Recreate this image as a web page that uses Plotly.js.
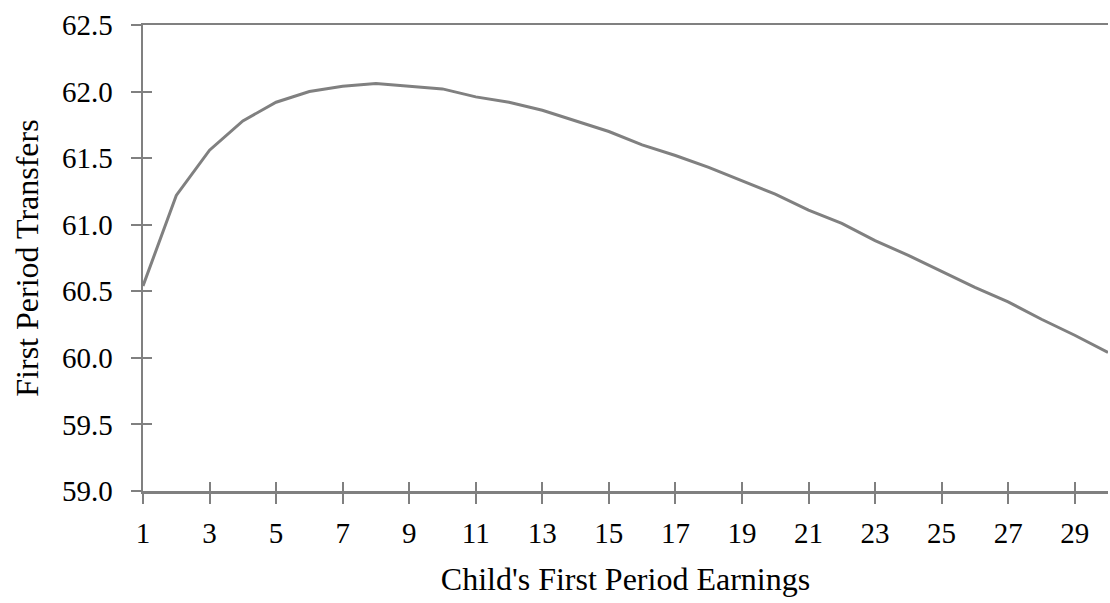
<!DOCTYPE html>
<html>
<head>
<meta charset="utf-8">
<script src="https://cdn.plot.ly/plotly-3.0.1.min.js"></script>
<style>html,body{margin:0;padding:0;background:#fff;}#chart{width:1110px;height:603px;}</style>
</head>
<body>
<div id="chart"></div>
<script>
// Child's first period earnings (x) and first period transfers (y)
const earnings = [1,2,3,4,5,6,7,8,9,10,11,12,13,14,15,16,17,18,19,20,21,22,23,24,25,26,27,28,29,30];
const transfers = [60.54,61.22,61.56,61.78,61.92,62.00,62.04,62.06,62.04,62.02,61.96,61.92,61.86,61.78,61.70,61.60,61.52,61.43,61.33,61.23,61.11,61.01,60.88,60.77,60.65,60.53,60.42,60.29,60.17,60.04];
const xTickVals = [1,3,5,7,9,11,13,15,17,19,21,23,25,27,29];
const yTickVals = [59.0,59.5,60.0,60.5,61.0,61.5,62.0,62.5];
const yTickText = yTickVals.map(v => v.toFixed(1));
const xTitle = "Child's First Period Earnings";
const yTitle = "First Period Transfers";

const gray = '#808080';
const fontFam = '"Liberation Serif", "Times New Roman", serif';

const traces = [
  {x: earnings, y: transfers, type: 'scatter', mode: 'lines',
   line: {color: gray, width: 3}, hoverinfo: 'skip', xaxis: 'x', yaxis: 'y'},
  {x: [earnings[0]], y: [transfers[0]], type: 'scatter', mode: 'markers',
   marker: {opacity: 0}, showlegend: false, hoverinfo: 'skip', xaxis: 'x2', yaxis: 'y2'}
];

const layout = {
  width: 1110, height: 603,
  margin: {l: 143, r: 2, t: 25, b: 112},
  paper_bgcolor: '#ffffff', plot_bgcolor: '#ffffff',
  showlegend: false,
  font: {family: fontFam, color: '#000'},
  xaxis: {
    range: [1, 30], tickmode: 'array', tickvals: xTickVals,
    ticks: 'outside', ticklen: 10, tickwidth: 2, tickcolor: gray,
    showline: true, linecolor: gray, linewidth: 2.5, mirror: true,
    showgrid: false, zeroline: false,
    tickfont: {family: fontFam, size: 29, color: '#000'},
    ticklabelstandoff: 5,
    title: {text: xTitle, font: {family: fontFam, size: 32, color: '#000'}, standoff: 20}
  },
  yaxis: {
    range: [59.0, 62.5], tickmode: 'array', tickvals: yTickVals, ticktext: yTickText,
    ticks: 'outside', ticklen: 10, tickwidth: 2, tickcolor: gray,
    showline: true, linecolor: gray, linewidth: 2.5,
    showgrid: false, zeroline: false,
    tickfont: {family: fontFam, size: 29, color: '#000'},
    ticklabelstandoff: 12,
    title: {text: yTitle, font: {family: fontFam, size: 32, color: '#000'}, standoff: 14}
  },
  xaxis2: {
    overlaying: 'x', anchor: 'y', side: 'bottom', range: [1, 30],
    tickmode: 'array', tickvals: xTickVals, ticks: 'inside', ticklen: 9, tickwidth: 2, tickcolor: gray,
    showticklabels: false, showgrid: false, zeroline: false, showline: false
  },
  yaxis2: {
    overlaying: 'y', anchor: 'x', side: 'left', range: [59.0, 62.5],
    tickmode: 'array', tickvals: yTickVals, ticks: 'inside', ticklen: 9, tickwidth: 2, tickcolor: gray,
    showticklabels: false, showgrid: false, zeroline: false, showline: false
  }
};

Plotly.newPlot('chart', traces, layout, {displayModeBar: false, staticPlot: true});
</script>
</body>
</html>
